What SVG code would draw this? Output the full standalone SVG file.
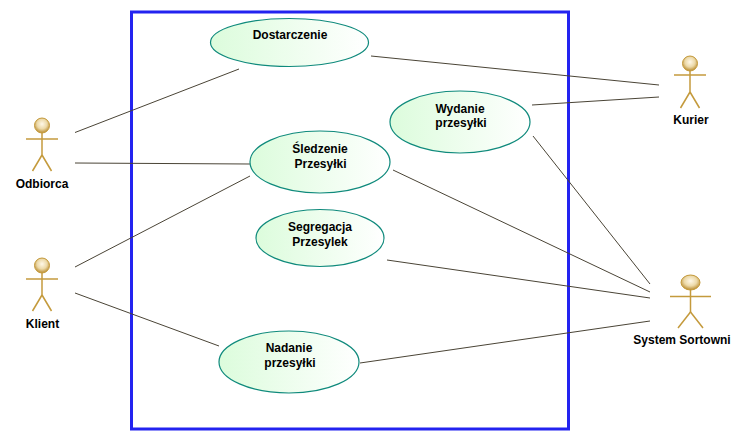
<svg xmlns="http://www.w3.org/2000/svg" width="741" height="440" viewBox="0 0 741 440">
<style>
text{font-family:"Liberation Sans",Arial,sans-serif;font-size:12px;font-weight:700;fill:#000;text-anchor:middle}
.uc{fill:url(#ucg);stroke:#0f8a7c;stroke-width:1.2}
.c line{stroke:#4a4436;stroke-width:1}
.a line{stroke:#c49a3c;stroke-width:1.5}
.a .h{fill:url(#hg);stroke:#c49a3c;stroke-width:1}
</style>
<defs>
<linearGradient id="ucg" x1="0" y1="0" x2="1" y2="0"><stop offset="0" stop-color="#dcfcdc"/><stop offset="1" stop-color="#ffffff"/></linearGradient>
<radialGradient id="hg" cx="0.5" cy="0.4" r="0.6"><stop offset="0" stop-color="#fff8e8"/><stop offset="0.55" stop-color="#ecd9a8"/><stop offset="1" stop-color="#b8892c"/></radialGradient>
</defs>
<rect id="boundary" x="131.500" y="12" width="437" height="417" fill="#fff" stroke="#2323f0" stroke-width="3"/>
<g id="connectors" class="c">
<line x1="75" y1="132.500" x2="239" y2="69"/>
<line x1="75" y1="163" x2="250" y2="164"/>
<line x1="75" y1="267" x2="250" y2="176"/>
<line x1="75" y1="293" x2="219" y2="346"/>
<line x1="371" y1="56" x2="659" y2="85"/>
<line x1="532" y1="105" x2="659" y2="97"/>
<line x1="533" y1="136" x2="650" y2="284"/>
<line x1="393" y1="170" x2="650" y2="292"/>
<line x1="387" y1="260" x2="650" y2="298"/>
<line x1="360" y1="363" x2="650" y2="321"/>
</g>
<g id="dostarczenie"><ellipse class="uc" cx="289.500" cy="42.500" rx="79" ry="24"/><text x="290" y="38.500">Dostarczenie</text></g>
<g id="wydanie"><ellipse class="uc" cx="460" cy="122" rx="70" ry="31"/><text x="460" y="112.500">Wydanie</text><text x="461" y="127">przesyłki</text></g>
<g id="sledzenie"><ellipse class="uc" cx="320" cy="162" rx="70" ry="31"/><text x="320" y="152.500">Śledzenie</text><text x="320.500" y="167.500">Przesyłki</text></g>
<g id="segregacja"><ellipse class="uc" cx="320" cy="238" rx="64" ry="28.500"/><text x="320" y="231">Segregacja</text><text x="320" y="246">Przesylek</text></g>
<g id="nadanie"><ellipse class="uc" cx="289" cy="362" rx="70" ry="31"/><text x="289" y="352">Nadanie</text><text x="290" y="367">przesyłki</text></g>
<g id="odbiorca" class="a"><circle class="h" cx="42" cy="125.500" r="7.500"/><line x1="42" y1="133" x2="42" y2="156"/><line x1="26" y1="139" x2="58" y2="139"/><line x1="42" y1="155" x2="32.500" y2="171"/><line x1="42" y1="155" x2="51.500" y2="171"/><text x="42" y="188">Odbiorca</text></g>
<g id="klient" class="a"><circle class="h" cx="42" cy="265.500" r="7.500"/><line x1="42" y1="273" x2="42" y2="296"/><line x1="26" y1="279" x2="58" y2="279"/><line x1="42" y1="295" x2="32.500" y2="311"/><line x1="42" y1="295" x2="51.500" y2="311"/><text x="42.500" y="328">Klient</text></g>
<g id="kurier" class="a"><circle class="h" cx="690" cy="63.500" r="7.500"/><line x1="690" y1="71" x2="690" y2="94"/><line x1="674" y1="75" x2="706" y2="75"/><line x1="690" y1="92" x2="680.500" y2="108"/><line x1="690" y1="92" x2="699.500" y2="108"/><text x="691" y="124">Kurier</text></g>
<g id="system" class="a"><ellipse class="h" cx="690.500" cy="282.500" rx="9.500" ry="7.500"/><line x1="690.500" y1="290" x2="690.500" y2="313"/><line x1="670" y1="296.500" x2="711" y2="296.500"/><line x1="690.500" y1="312" x2="678" y2="328"/><line x1="690.500" y1="312" x2="703" y2="328"/><text x="682" y="344">System Sortowni</text></g>
</svg>
